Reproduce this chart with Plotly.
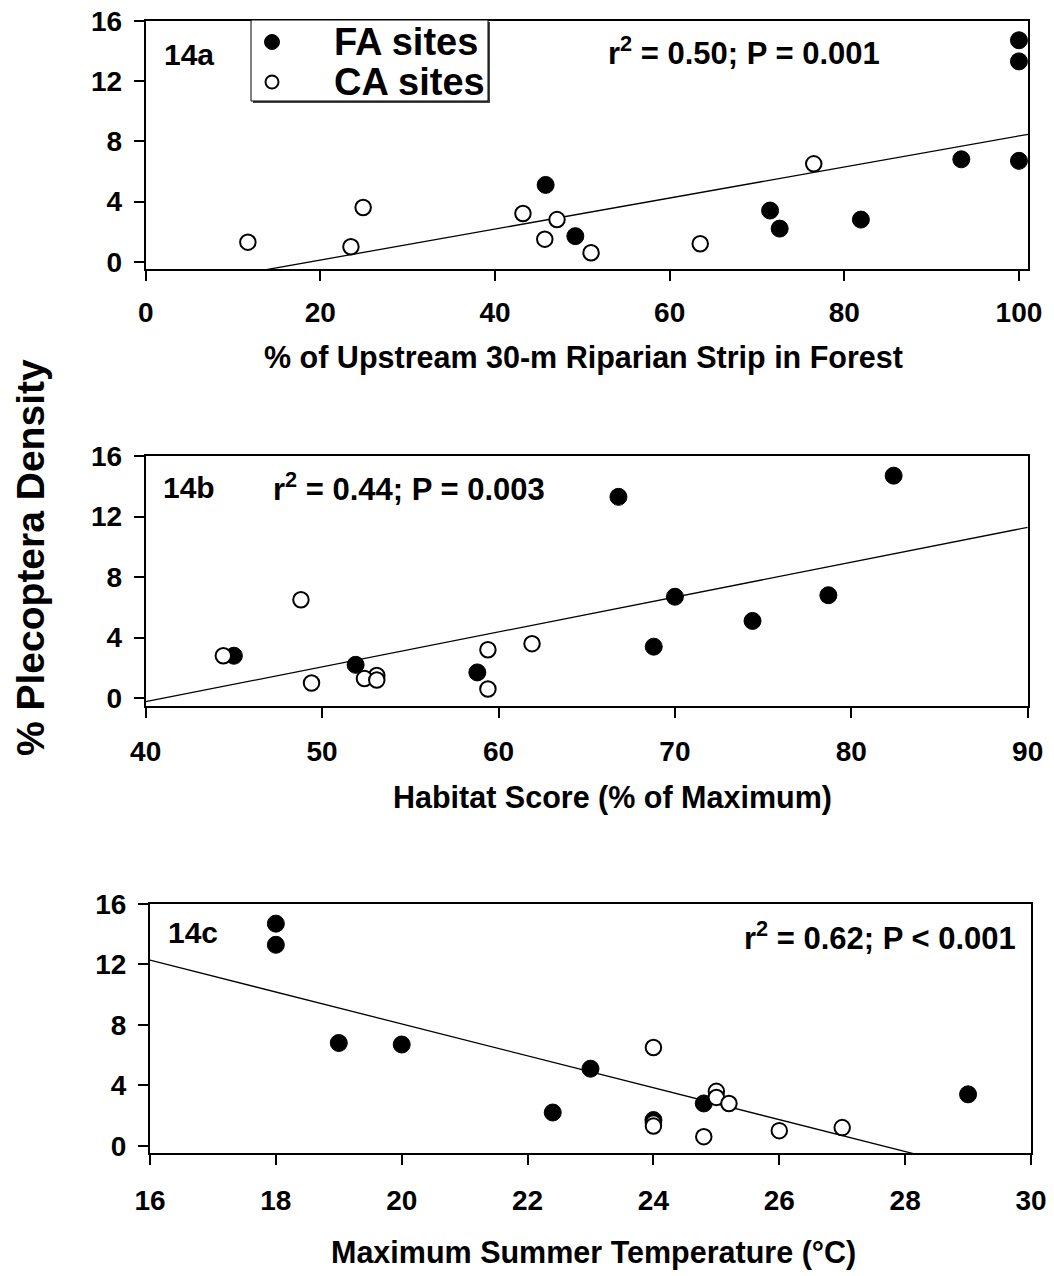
import numpy as np
import plotly.graph_objects as go

# % Plecoptera density at forest-dominated (FA) and cleared (CA) sites
fa_density = [14.7, 13.3, 6.8, 6.7, 5.1, 3.4, 2.8, 2.2, 1.7]
ca_density = [6.5, 3.6, 3.2, 2.8, 1.5, 1.3, 1.2, 1.0, 0.6]

# % of upstream 30-m riparian strip in forest
fa_forest = [100, 100, 93.4, 100, 45.8, 71.5, 81.9, 72.6, 49.2]
ca_forest = [76.5, 24.9, 43.2, 47.1, 45.7, 11.7, 63.5, 23.5, 51.0]

# habitat score (% of maximum)
fa_habitat = [82.4, 66.8, 78.7, 70.0, 74.4, 68.8, 45.0, 51.9, 58.8]
ca_habitat = [48.8, 61.9, 59.4, 44.4, 53.1, 52.4, 53.1, 49.4, 59.4]

# maximum summer temperature (deg C)
fa_temp = [18, 18, 19, 20, 23, 29, 24.8, 22.4, 24]
ca_temp = [24, 25, 25, 25.2, 24, 24, 27, 26, 24.8]

panel_labels = ["14a", "14b", "14c"]
stat_labels = [
    "r<sup>2</sup> = 0.50; P = 0.001",
    "r<sup>2</sup> = 0.44; P = 0.003",
    "r<sup>2</sup> = 0.62; P &lt; 0.001",
]
x_titles = [
    "% of Upstream 30-m Riparian Strip in Forest",
    "Habitat Score (% of Maximum)",
    "Maximum Summer Temperature (°C)",
]
y_title = "% Plecoptera Density"
x_ticks = [[0, 20, 40, 60, 80, 100], [40, 50, 60, 70, 80, 90], [16, 18, 20, 22, 24, 26, 28, 30]]
y_ticks = [0, 4, 8, 12, 16]
legend_names = ["FA sites", "CA sites"]

W, H = 1054, 1276
FONT = "Liberation Sans, Arial, Helvetica, sans-serif"


def px(x):
    return x / W


def py(y):
    return 1 - y / H


def bold(size):
    return dict(family=FONT, size=size, color="black", weight="bold")


# plot boxes in pixels: left, right, top, bottom
boxes = [(145.7, 1028.3, 20.7, 269.3), (145.7, 1027.7, 456.0, 705.7), (150.0, 1031.0, 904.0, 1153.3)]
x_ranges = [[0, 101.07], [40, 90], [16, 30]]
y_range = [-0.5, 16]
x_label_standoff = [7, 10, 11]

panels = [
    (fa_forest, ca_forest),
    (fa_habitat, ca_habitat),
    (fa_temp, ca_temp),
]

fa_marker = dict(symbol="circle", size=17, color="black", line=dict(color="black", width=1))
ca_marker = dict(symbol="circle", size=15.5, color="white", line=dict(color="black", width=2))

fig = go.Figure()

for i, (fa_x, ca_x) in enumerate(panels):
    sfx = "" if i == 0 else str(i + 1)
    xa, ya = "x" + sfx, "y" + sfx
    # least-squares fit over all sites
    all_x = np.array(fa_x + ca_x, dtype=float)
    all_y = np.array(fa_density + ca_density, dtype=float)
    slope, intercept = np.polyfit(all_x, all_y, 1)
    lx = np.array(x_ranges[i], dtype=float)
    fig.add_trace(go.Scatter(
        x=lx, y=slope * lx + intercept, mode="lines",
        line=dict(color="black", width=1.3), xaxis=xa, yaxis=ya,
        showlegend=False, hoverinfo="skip",
    ))
    fig.add_trace(go.Scatter(
        x=fa_x, y=fa_density, mode="markers", name=legend_names[0],
        marker=fa_marker, xaxis=xa, yaxis=ya, showlegend=False, cliponaxis=False,
    ))
    fig.add_trace(go.Scatter(
        x=ca_x, y=ca_density, mode="markers", name=legend_names[1],
        marker=ca_marker, xaxis=xa, yaxis=ya, showlegend=False, cliponaxis=False,
    ))

axis_common = dict(
    showline=True, linecolor="black", linewidth=2, mirror=True,
    ticks="outside", ticklen=10, tickwidth=2, tickcolor="black",
    showgrid=False, zeroline=False, tickfont=bold(28), automargin=False,
)

layout = {}
for i, (l, r, t, b) in enumerate(boxes):
    sfx = "" if i == 0 else str(i + 1)
    layout["xaxis" + sfx] = dict(
        axis_common, domain=[px(l), px(r)], range=x_ranges[i],
        tickvals=x_ticks[i], anchor="y" + sfx, ticklabelstandoff=x_label_standoff[i],
    )
    layout["yaxis" + sfx] = dict(
        axis_common, domain=[py(b), py(t)], range=y_range,
        tickvals=y_ticks, anchor="x" + sfx, ticklabelstandoff=6,
    )

annotations = []
title_pos = [(583, 357), (612, 797), (593, 1252)]
for i, (cx, cy) in enumerate(title_pos):
    annotations.append(dict(
        text=x_titles[i], x=px(cx), y=py(cy), xref="paper", yref="paper",
        xanchor="center", yanchor="middle", showarrow=False, font=bold(30.5),
    ))

label_pos = [(162, 54), (161, 487), (166, 932)]
for i, (lx_, ly_) in enumerate(label_pos):
    annotations.append(dict(
        text=panel_labels[i], x=px(lx_), y=py(ly_), xref="paper", yref="paper",
        xanchor="left", yanchor="middle", showarrow=False, font=bold(30),
    ))

stat_pos = [(744, 51, "center"), (409, 487, "center"), (1018, 936, "right")]
for i, (sx, sy, anc) in enumerate(stat_pos):
    annotations.append(dict(
        text=stat_labels[i], x=px(sx), y=py(sy), xref="paper", yref="paper",
        xanchor=anc, yanchor="middle", showarrow=False, font=bold(31),
    ))

annotations.append(dict(
    text=y_title, x=px(30), y=py(558), xref="paper", yref="paper",
    xanchor="center", yanchor="middle", showarrow=False, textangle=-90,
    font=bold(39),
))

# legend box with its two entries
leg_l, leg_r, leg_t, leg_b = 251, 488, 20, 101
entry_y = [42, 82]
sym_x, text_x = 272, 332
shapes = [
    dict(type="rect", xref="paper", yref="paper",
         x0=px(leg_l + 2), x1=px(leg_r + 2), y0=py(leg_b + 2), y1=py(leg_t + 2),
         fillcolor="#444444", line=dict(width=0), layer="above"),
    dict(type="rect", xref="paper", yref="paper",
         x0=px(leg_l), x1=px(leg_r), y0=py(leg_b), y1=py(leg_t),
         fillcolor="white", line=dict(color="black", width=1), layer="above"),
]
for k, mk in enumerate([fa_marker, ca_marker]):
    d = 15 if k == 0 else 13
    shapes.append(dict(
        type="circle", xref="paper", yref="paper", xsizemode="pixel", ysizemode="pixel",
        xanchor=px(sym_x), yanchor=py(entry_y[k]),
        x0=-d / 2, x1=d / 2, y0=-d / 2, y1=d / 2,
        fillcolor=mk["color"], line=dict(color="black", width=mk["line"]["width"]),
        layer="above",
    ))
    annotations.append(dict(
        text=legend_names[k], x=px(text_x), y=py(entry_y[k]), xref="paper", yref="paper",
        xanchor="left", yanchor="middle", showarrow=False, font=bold(38),
    ))

fig.update_layout(
    width=W, height=H,
    margin=dict(l=0, r=0, t=0, b=0, autoexpand=False),
    paper_bgcolor="white", plot_bgcolor="white",
    showlegend=False,
    annotations=annotations,
    shapes=shapes,
    **layout,
)

fig.write_html("out.html")
